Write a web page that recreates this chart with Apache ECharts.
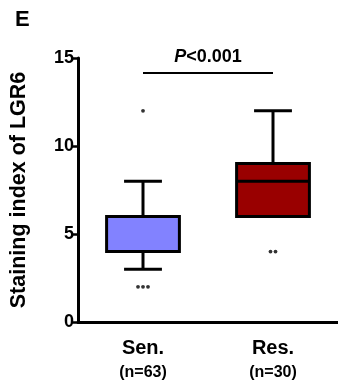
<!DOCTYPE html>
<html><head><meta charset="utf-8">
<script src="https://cdn.jsdelivr.net/npm/echarts@6/dist/echarts.min.js"></script>
<style>html,body{margin:0;padding:0;background:#fff}#c{width:338px;height:383px}</style>
</head><body><div id="c"></div>
<script>
var categories = ['Sen.', 'Res.'];
var groupSizes = ['(n=63)', '(n=30)'];
// [whiskerLow, q1, median, q3, whiskerHigh]
var boxStats = [[3, 4, 4, 6, 8], [6, 6, 8, 9, 12]];
var boxColors = ['#8282ff', '#990000'];
// outliers: [categoryIndex, value, horizontal offset index]
var outliersSen = [[0, 12, 0], [0, 2, -1], [0, 2, 0], [0, 2, 1]];
var outliersRes = [[1, 4, -0.5], [1, 4, 0.5]];
var sigLevel = 14.15;
var sigText = 'P<0.001';
var yTicks = [0, 5, 10, 15];

var chart = echarts.init(document.getElementById('c'), null, {renderer: 'canvas'});
var FONT = '"Liberation Sans", Arial, sans-serif';

function boxItem(params, api) {
  var i = api.value(0);
  var lo = api.coord([i, api.value(1)]);
  var q1 = api.coord([i, api.value(2)]);
  var med = api.coord([i, api.value(3)]);
  var q3 = api.coord([i, api.value(4)]);
  var hi = api.coord([i, api.value(5)]);
  var bw = api.size([1, 0])[0] * 0.56;
  var cw = bw * 0.52;
  var x = lo[0];
  var st = {stroke: '#000', lineWidth: 3, fill: null};
  var children = [
    {type: 'line', shape: {x1: x, y1: hi[1], x2: x, y2: q3[1]}, style: st},
    {type: 'line', shape: {x1: x, y1: lo[1], x2: x, y2: q1[1]}, style: st},
    {type: 'line', shape: {x1: x - cw / 2, y1: hi[1], x2: x + cw / 2, y2: hi[1]}, style: st},
    {type: 'line', shape: {x1: x - cw / 2, y1: lo[1], x2: x + cw / 2, y2: lo[1]}, style: st},
    {type: 'rect', shape: {x: x - bw / 2, y: q3[1], width: bw, height: q1[1] - q3[1]},
      style: {fill: boxColors[i], stroke: '#000', lineWidth: 3}},
    {type: 'line', shape: {x1: x - bw / 2, y1: med[1], x2: x + bw / 2, y2: med[1]}, style: st}
  ];
  return {type: 'group', children: children};
}

function sigItem(params, api) {
  var a = api.coord([api.value(0), api.value(2)]);
  var b = api.coord([api.value(1), api.value(2)]);
  return {type: 'group', children: [
    {type: 'line', shape: {x1: a[0], y1: a[1], x2: b[0], y2: a[1]}, style: {stroke: '#000', lineWidth: 2}},
    {type: 'text', style: {x: (a[0] + b[0]) / 2, y: a[1] - 7, text: '{i|P}{b|' + sigText.slice(1) + '}',
      rich: {i: {fontStyle: 'italic', fontWeight: 'bold', fontSize: 18, fontFamily: FONT, fill: '#000'},
             b: {fontWeight: 'bold', fontSize: 18, fontFamily: FONT, fill: '#000'}},
      align: 'center', verticalAlign: 'bottom'}}
  ]};
}

function outlierData(arr) {
  return arr.map(function (o) {
    return {value: [o[0], o[1]], symbolOffset: [o[2] * 5, 0]};
  });
}

chart.setOption({
  animation: false,
  graphic: [{type: 'text', left: 15, top: 9, style: {text: 'E', fontSize: 22, fontWeight: 'bold', fontFamily: FONT, fill: '#000'}}],
  grid: {left: 78, top: 58, width: 264, bottom: 61},
  xAxis: {
    type: 'category', data: categories,
    axisLine: {lineStyle: {color: '#000', width: 3}},
    axisTick: {alignWithLabel: true, length: 9, lineStyle: {color: '#000', width: 3}},
    axisLabel: {
      margin: 14, interval: 0,
      formatter: function (v, idx) { return '{a|' + v + '}\n{b|' + groupSizes[idx] + '}'; },
      rich: {
        a: {fontSize: 20, fontWeight: 'bold', fontFamily: FONT, color: '#000', lineHeight: 24},
        b: {fontSize: 16, fontWeight: 'bold', fontFamily: FONT, color: '#000', lineHeight: 26}
      }
    }
  },
  yAxis: {
    type: 'value', min: yTicks[0], max: yTicks[yTicks.length - 1], interval: yTicks[1] - yTicks[0],
    name: 'Staining index of LGR6', nameLocation: 'middle', nameGap: 48,
    nameTextStyle: {fontSize: 21.5, fontWeight: 'bold', fontFamily: FONT, color: '#000'},
    axisLine: {show: true, lineStyle: {color: '#000', width: 3}},
    axisTick: {show: true, length: 6, lineStyle: {color: '#000', width: 2.5}},
    axisLabel: {margin: 4, fontSize: 18, fontWeight: 'bold', fontFamily: FONT, color: '#000'},
    splitLine: {show: false}
  },
  series: [
    {type: 'custom', renderItem: boxItem,
     data: boxStats.map(function (s, i) { return [i].concat(s); }), z: 2},
    {type: 'scatter', symbol: 'circle', symbolSize: 3.8, itemStyle: {color: '#000'},
     data: outlierData(outliersSen.concat(outliersRes)), z: 3},
    {type: 'custom', renderItem: sigItem, data: [[0, 1, sigLevel]], z: 4}
  ]
});
</script></body></html>
